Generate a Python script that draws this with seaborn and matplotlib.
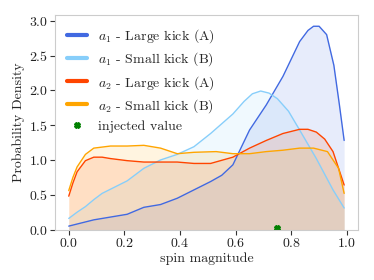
import numpy as np
import pandas as pd
import matplotlib
matplotlib.use("Agg")
import matplotlib.pyplot as plt
import seaborn as sns

# values
x_a1_large = [0.0, 0.05, 0.09, 0.15, 0.21, 0.27, 0.33, 0.39, 0.45, 0.51, 0.55, 0.59, 0.62,
              0.65, 0.71, 0.77, 0.83, 0.86, 0.88, 0.90, 0.927, 0.953, 0.973, 0.99]
y_a1_large = [0.05, 0.10, 0.14, 0.18, 0.22, 0.32, 0.36, 0.45, 0.57, 0.69, 0.78, 0.93, 1.18,
              1.43, 1.79, 2.20, 2.70, 2.86, 2.92, 2.92, 2.80, 2.36, 1.79, 1.28]

x_a1_small = [0.0, 0.03, 0.06, 0.09, 0.12, 0.18, 0.21, 0.27, 0.33, 0.39, 0.45, 0.51, 0.55,
              0.59, 0.63, 0.66, 0.69, 0.72, 0.75, 0.79, 0.83, 0.89, 0.95, 0.99]
y_a1_small = [0.16, 0.25, 0.33, 0.43, 0.52, 0.64, 0.70, 0.88, 1.00, 1.08, 1.19, 1.38, 1.52,
              1.66, 1.84, 1.95, 1.99, 1.96, 1.88, 1.70, 1.43, 1.02, 0.57, 0.31]

x_a2_large = [0.0, 0.015, 0.03, 0.06, 0.09, 0.12, 0.15, 0.21, 0.27, 0.33, 0.39, 0.45, 0.51,
              0.59, 0.65, 0.71, 0.77, 0.83, 0.86, 0.89, 0.92, 0.95, 0.99]
y_a2_large = [0.48, 0.67, 0.83, 0.99, 1.04, 1.04, 1.02, 0.99, 0.97, 0.97, 0.97, 0.95, 0.95,
              1.04, 1.17, 1.28, 1.38, 1.44, 1.44, 1.40, 1.30, 1.12, 0.64]

x_a2_small = [0.0, 0.015, 0.03, 0.06, 0.09, 0.15, 0.21, 0.27, 0.33, 0.39, 0.45, 0.53, 0.59,
              0.65, 0.71, 0.77, 0.83, 0.88, 0.93, 0.97, 0.99]
y_a2_small = [0.56, 0.75, 0.90, 1.08, 1.17, 1.20, 1.20, 1.21, 1.17, 1.09, 1.11, 1.12, 1.09,
              1.09, 1.12, 1.14, 1.17, 1.17, 1.12, 0.88, 0.52]

labels = [r"$a_1$ - Large kick (A)", r"$a_1$ - Small kick (B)",
          r"$a_2$ - Large kick (A)", r"$a_2$ - Small kick (B)"]
colors = ["royalblue", "lightskyblue", "orangered", "orange"]

injected_x = [0.75]
injected_y = [0.02]

sns.set_style("ticks")
plt.rcParams["font.family"] = ["cmr10"]
plt.rcParams["mathtext.fontset"] = "cm"
plt.rcParams["axes.formatter.use_mathtext"] = True
plt.rcParams["font.size"] = 10

fig, ax = plt.subplots(figsize=(3.74, 2.8), dpi=100)

series = [(x_a1_large, y_a1_large), (x_a1_small, y_a1_small),
          (x_a2_large, y_a2_large), (x_a2_small, y_a2_small)]
for (xs, ys), lab, col in zip(series, labels, colors):
    df = pd.DataFrame({"x": xs, "y": ys})
    sns.lineplot(data=df, x="x", y="y", ax=ax, color=col, lw=1.0, label=lab)
    ax.fill_between(df["x"], df["y"], color=col, alpha=0.12, lw=0)

ax.plot(injected_x, injected_y, "X", color="green", ms=4, ls="", label="injected value")

ax.set_ylim(0, 3.08)
ax.set_xlim(-0.0495, 1.0395)
ax.set_xticks([0.0, 0.2, 0.4, 0.6, 0.8, 1.0])
ax.set_xlabel("spin magnitude", fontsize=10, labelpad=2)
ax.set_ylabel("Probability Density", fontsize=10, labelpad=3)
for s in ax.spines.values():
    s.set_color("#cccccc")
ax.tick_params(colors="#333333", labelcolor="#222222", length=3.5, pad=1.5)

leg = ax.legend(loc="upper left", frameon=False, handlelength=1.4, labelspacing=0.38)
for h in leg.get_lines()[:4]:
    h.set_linewidth(3)

fig.subplots_adjust(left=0.147, right=0.957, top=0.946, bottom=0.18)
fig.savefig("out.png", dpi=100)
